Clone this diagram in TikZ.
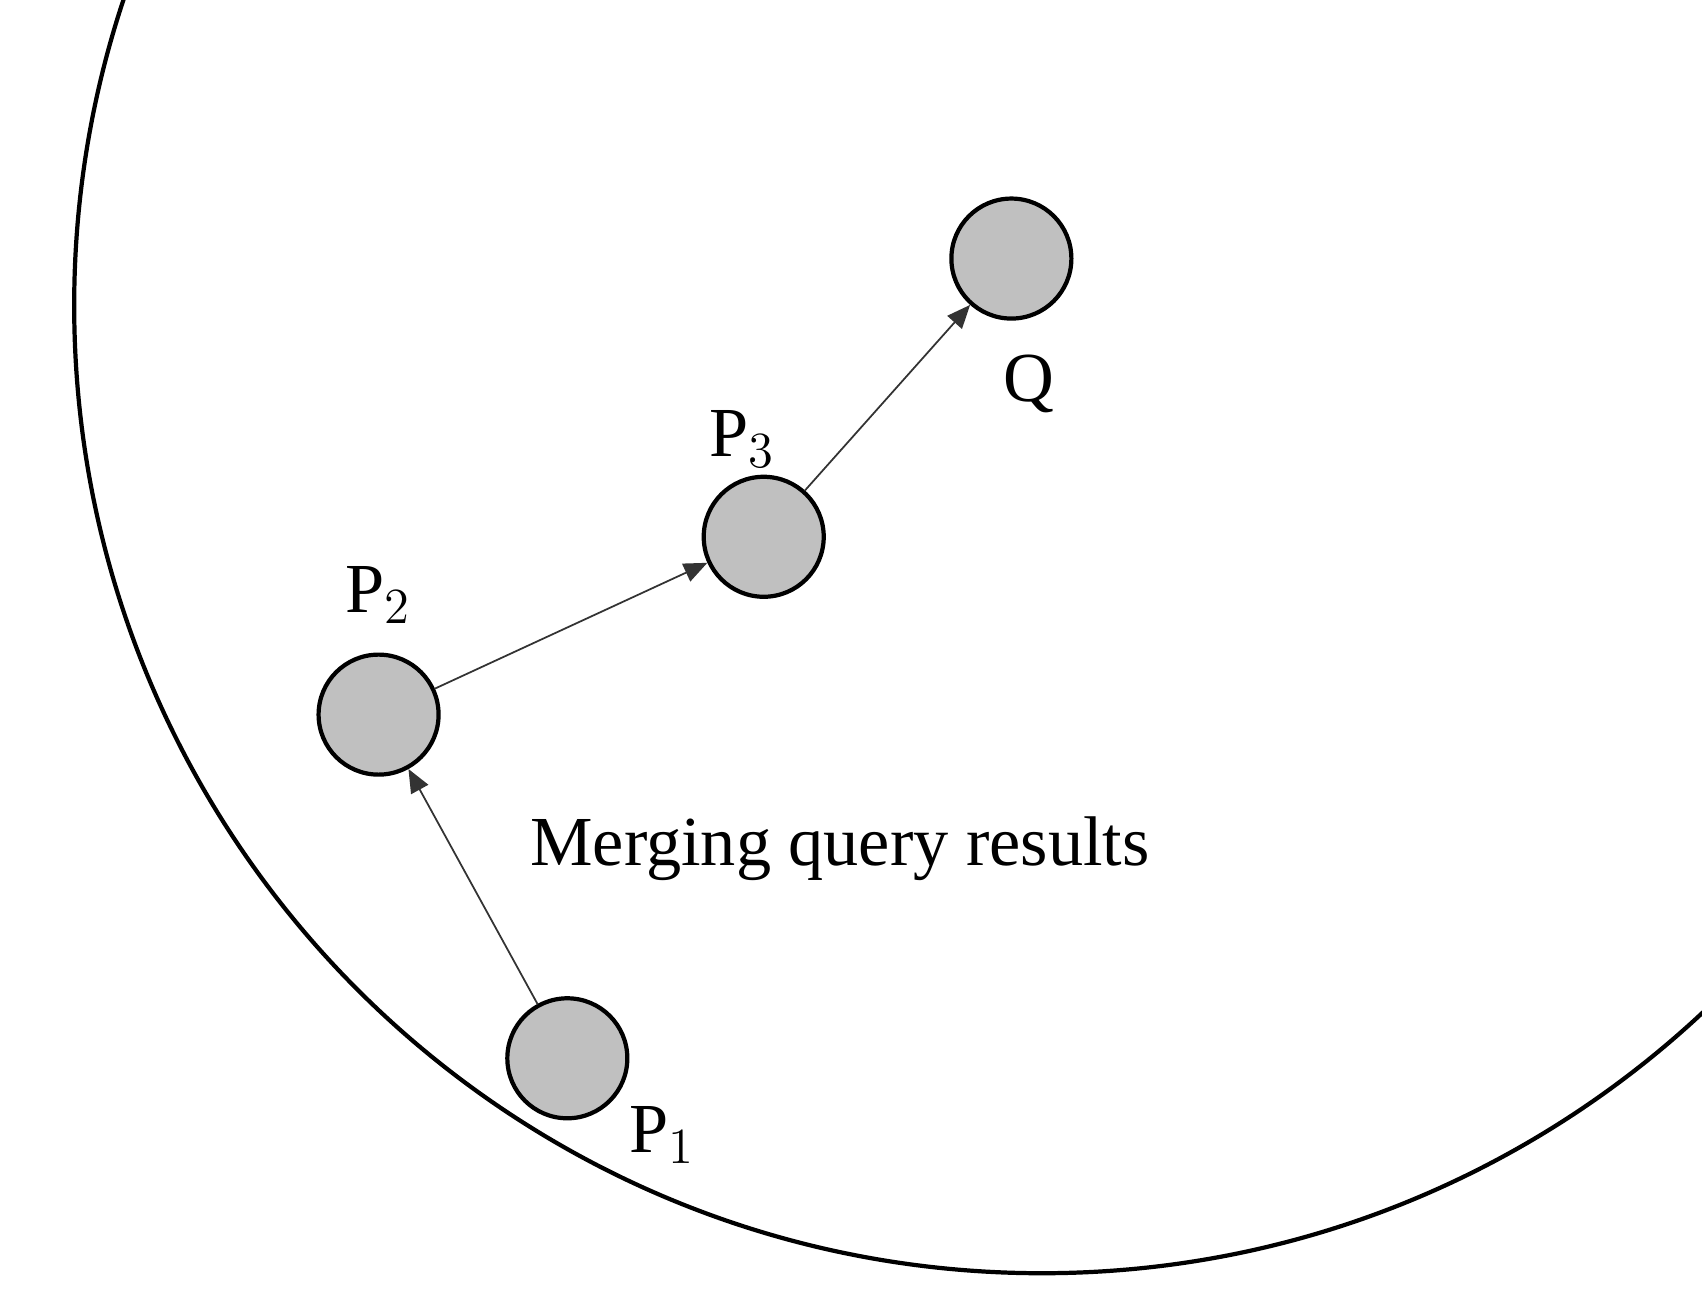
\documentclass[tikz,border=0pt]{standalone}
\usepackage{fontspec}
\setmainfont{Liberation Serif}
\usetikzlibrary{arrows}
\begin{document}
\begin{tikzpicture}[line cap=round,line join=round,>=triangle 45,x=0.01091cm,y=-0.01091cm,
  peer/.style={circle, draw, line width=1.2pt, fill={rgb,255:red,192;green,192;blue,192}, minimum size=110\pgflinewidth, inner sep=0pt},
  lab/.style={font=\fontsize{20}{24}\selectfont},
  hop/.style={->, line width=0.5pt, draw=black!80}]
    \useasboundingbox (0,0) rectangle (1560,1196);
    \clip (0,0) rectangle (1560,1196);
    \draw [line width=1.2pt] (955,280) circle (887);

    \node [peer, minimum size=1.2cm] (q) at (927,237) {};
    \node [peer, minimum size=1.2cm] (p3) at (700,492) {};
    \node [peer, minimum size=1.2cm] (p2) at (347,655) {};
    \node [peer, minimum size=1.2cm] (p1) at (520,970) {};

    \node [lab] (lq) at (943,352) {Q};
    \node [lab] (lp3) at (680,402) {P$_3$};
    \node [lab] (lp2) at (347,545) {P$_2$};
    \node [lab] (lp1) at (607,1040) {P$_1$};
    \node [lab] (merge) at (770,778) {Merging query results};

    \draw [hop] (p1) -- (p2);
    \draw [hop] (p2) -- (p3);
    \draw [hop] (p3) -- (q);
\end{tikzpicture}
\end{document}
